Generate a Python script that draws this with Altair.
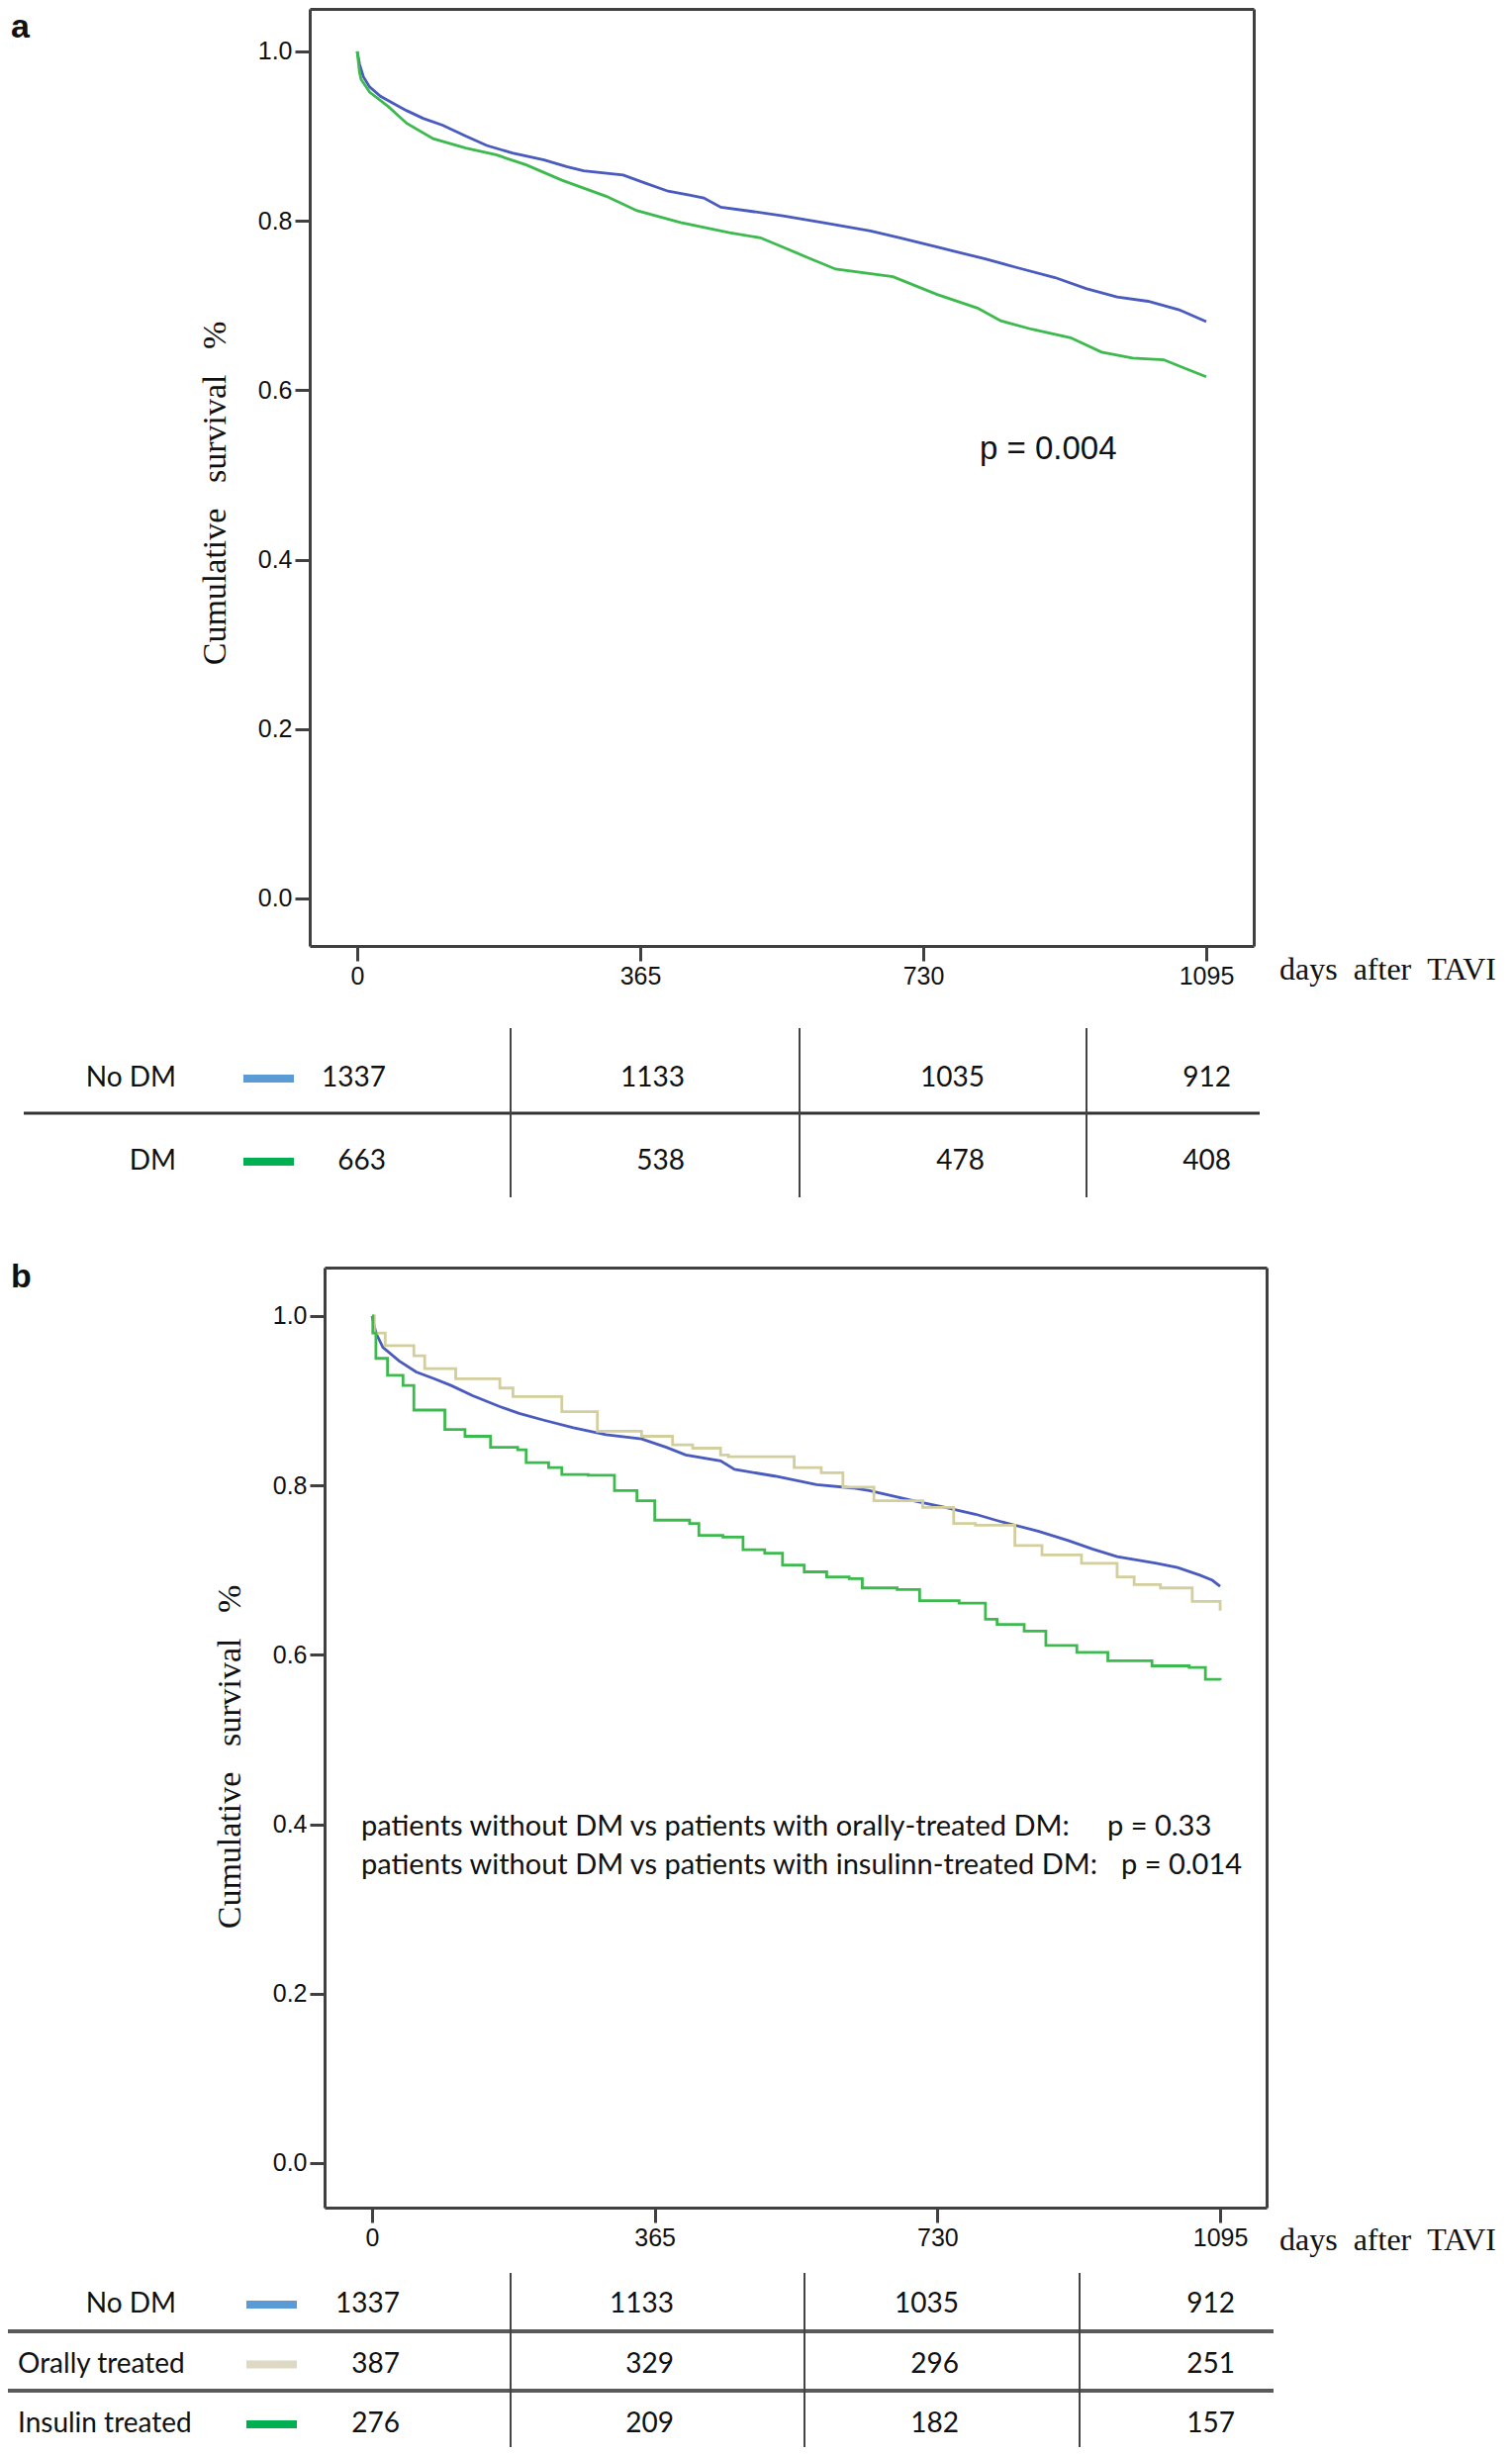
import altair as alt
import pandas as pd

# ---------------- data ----------------
tick_days = [0, 365, 730, 1095]
tick_surv = [0.0, 0.2, 0.4, 0.6, 0.8, 1.0]

# panel a
a_nodm_day = [0, 3, 8, 16, 30, 50, 64, 85, 110, 140, 167, 200, 241, 270, 292, 343, 370, 401, 430, 447,
              469, 510, 549, 600, 662, 700, 748, 810, 850, 900, 940, 980, 1020, 1060, 1095]
a_nodm_surv = [1.000, 0.985, 0.970, 0.958, 0.947, 0.937, 0.930, 0.921, 0.913, 0.900, 0.889, 0.880, 0.872,
               0.864, 0.859, 0.854, 0.845, 0.835, 0.830, 0.827, 0.816, 0.811, 0.806, 0.798, 0.788, 0.780,
               0.769, 0.755, 0.745, 0.733, 0.720, 0.710, 0.705, 0.695, 0.681]
a_dm_day = [0, 3, 5, 16, 40, 64, 98, 140, 179, 218, 264, 321, 361, 417, 480, 520, 549, 580, 617, 691,
            748, 800, 830, 870, 920, 960, 1000, 1040, 1070, 1095]
a_dm_surv = [1.000, 0.975, 0.967, 0.952, 0.935, 0.915, 0.897, 0.886, 0.878, 0.866, 0.848, 0.829, 0.812,
             0.798, 0.786, 0.780, 0.769, 0.757, 0.743, 0.734, 0.713, 0.697, 0.682, 0.672, 0.662, 0.645,
             0.638, 0.636, 0.625, 0.616]

# panel b
b_nodm_day = [0, 5, 14, 35, 57, 80, 102, 130, 165, 190, 222, 260, 302, 348, 380, 405, 450, 468, 520, 574,
              620, 642, 699, 740, 779, 813, 860, 899, 930, 962, 1013, 1040, 1069, 1085, 1095]
b_nodm_surv = [1.000, 0.980, 0.963, 0.947, 0.934, 0.926, 0.918, 0.906, 0.893, 0.885, 0.877, 0.868, 0.860,
               0.855, 0.845, 0.836, 0.829, 0.819, 0.811, 0.801, 0.797, 0.794, 0.782, 0.774, 0.766, 0.757,
               0.746, 0.735, 0.725, 0.716, 0.708, 0.703, 0.694, 0.688, 0.681]
b_oral_day = [0, 3, 17, 54, 68, 108, 165, 182, 214, 245, 291, 348, 388, 414, 450, 460, 522, 545, 580, 608,
              648, 711, 751, 779, 830, 865, 916, 962, 984, 1018, 1059, 1095]
b_oral_surv = [1.000, 0.980, 0.965, 0.953, 0.938, 0.926, 0.915, 0.905, 0.905, 0.887, 0.864, 0.858, 0.848,
               0.844, 0.836, 0.834, 0.834, 0.821, 0.815, 0.798, 0.782, 0.774, 0.755, 0.753, 0.729, 0.718,
               0.708, 0.692, 0.683, 0.679, 0.663, 0.652]
b_ins_day = [0, 1, 5, 20, 40, 54, 74, 94, 120, 153, 188, 199, 228, 245, 279, 313, 342, 365, 410, 422, 453,
             479, 507, 530, 558, 587, 616, 633, 678, 707, 758, 792, 807, 842, 870, 910, 950, 1007, 1055,
             1076, 1095]
b_ins_surv = [1.000, 0.980, 0.950, 0.930, 0.918, 0.889, 0.889, 0.866, 0.858, 0.845, 0.842, 0.827, 0.821,
              0.813, 0.812, 0.794, 0.782, 0.759, 0.755, 0.741, 0.739, 0.724, 0.720, 0.706, 0.698, 0.692,
              0.690, 0.679, 0.677, 0.664, 0.661, 0.642, 0.636, 0.628, 0.611, 0.603, 0.593, 0.587, 0.585,
              0.571, 0.570]

a_groups = ["No DM", "DM"]
a_risk_nodm = [1337, 1133, 1035, 912]
a_risk_dm = [663, 538, 478, 408]

b_groups = ["No DM", "Orally treated", "Insulin treated"]
b_risk_nodm = [1337, 1133, 1035, 912]
b_risk_oral = [387, 329, 296, 251]
b_risk_ins = [276, 209, 182, 157]

p_a = "p = 0.004"
b_note1 = "patients without DM vs patients with orally-treated DM:"
b_p1 = "p = 0.33"
b_note2 = "patients without DM vs patients with insulinn-treated DM:"
b_p2 = "p = 0.014"

# ---------------- styles / layout ----------------
W, H = 1512, 2465
FR = "#404040"
TXT = "#111111"
C_BLUE, C_BEIGE, C_GREEN = "#4a5bbf", "#d3ce9d", "#3dba4e"
S_BLUE, S_BEIGE, S_GREEN = "#5b9bd5", "#ddd9c4", "#00b050"
NB = "\u00a0"
Y_TITLE = "Cumulative" + NB * 3 + "survival" + NB * 3 + "%"
X_TITLE = "days" + NB * 2 + "after" + NB * 2 + "TAVI"


def curves(days_list, surv_list, names):
    rows = []
    for days, surv, name in zip(days_list, surv_list, names):
        for d, s in zip(days, surv):
            rows.append({"day": d, "surv": s, "group": name})
    return pd.DataFrame(rows)


def risk(groups, counts):
    rows = []
    for g, cs in zip(groups, counts):
        for d, n in zip(tick_days, cs):
            rows.append({"row": g, "day": d, "n": n})
    return pd.DataFrame(rows)


def km_panel(df_smooth, df_step, names, colors, xdom, xrng, ydom, yrng, title_y):
    xs = alt.Scale(domain=xdom, range=xrng, nice=False, zero=False)
    ys = alt.Scale(domain=ydom, range=yrng, nice=False, zero=False)
    cs = alt.Scale(domain=names, range=colors)
    x_bottom = alt.Axis(orient="bottom", offset=yrng[0] - H, values=tick_days, format="d",
                        tickSize=15, tickWidth=3, tickColor=FR, domainColor=FR, domainWidth=3,
                        labelFont="Liberation Sans", labelFontSize=25, labelColor=TXT, labelPadding=3,
                        title="", grid=False, labelFlush=False, labelOverlap=False)
    y_left = alt.Axis(orient="left", offset=-xrng[0], values=tick_surv, format=".1f",
                      tickSize=15, tickWidth=3, tickColor=FR, domainColor=FR, domainWidth=3,
                      labelFont="Liberation Sans", labelFontSize=25, labelColor=TXT, labelPadding=3,
                      title=Y_TITLE, titleFont="Liberation Serif", titleFontSize=34,
                      titleFontWeight="normal", titleColor=TXT, titleAngle=270, titleAlign="center",
                      titleBaseline="middle", titleX=-96, titleY=title_y, grid=False, labelFlush=False)
    out = []
    lines = alt.Chart(df_smooth).mark_line(strokeWidth=2.8).encode(
        x=alt.X("day:Q", scale=xs, axis=x_bottom),
        y=alt.Y("surv:Q", scale=ys, axis=y_left),
        color=alt.Color("group:N", scale=cs, legend=None),
        detail="group:N",
    )
    out.append(lines)
    if df_step is not None:
        steps = alt.Chart(df_step).mark_line(interpolate="step-after", strokeWidth=2.8).encode(
            x=alt.X("day:Q", scale=xs, axis=None),
            y=alt.Y("surv:Q", scale=ys, axis=None),
            color=alt.Color("group:N", scale=cs, legend=None),
            detail="group:N",
        )
        out.append(steps)
    x_top = alt.Axis(orient="top", offset=-yrng[1], ticks=False, labels=False, title="",
                     domainColor=FR, domainWidth=3, grid=False)
    y_right = alt.Axis(orient="right", offset=xrng[1] - W, ticks=False, labels=False, title="",
                       domainColor=FR, domainWidth=3, grid=False)
    frame = alt.Chart(df_smooth).mark_line(strokeOpacity=0).encode(
        x=alt.X("day:Q", scale=xs, axis=x_top),
        y=alt.Y("surv:Q", scale=ys, axis=y_right),
        detail="group:N",
    )
    out.append(frame)
    return out


def text_layer(txt, x, y, font, size, align="left", baseline="alphabetic", weight="normal"):
    return alt.Chart(pd.DataFrame({"t": [txt]})).mark_text(
        align=align, baseline=baseline, font=font, fontSize=size, fontWeight=weight, color=TXT
    ).encode(x=alt.value(x), y=alt.value(y), text="t:N")


def rule_h(x1, x2, y, w, c):
    return alt.Chart(pd.DataFrame({"k": [0]})).mark_rule(strokeWidth=w, color=c).encode(
        x=alt.value(x1), x2=alt.value(x2), y=alt.value(y))


def rule_v(x, y1, y2, w, c):
    return alt.Chart(pd.DataFrame({"k": [0]})).mark_rule(strokeWidth=w, color=c).encode(
        x=alt.value(x), y=alt.value(y1), y2=alt.value(y2))


def table(groups, counts, sw_colors, col_rng, row_rng, label_parts, sw_x):
    ys = alt.Scale(type="point", domain=groups, range=row_rng, padding=0)
    df = risk(groups, counts)
    nums = alt.Chart(df).mark_text(align="right", baseline="middle", font="Lato", fontSize=28,
                                   color=TXT).encode(
        x=alt.X("day:Q", scale=alt.Scale(domain=tick_days, range=col_rng, nice=False, zero=False), axis=None),
        y=alt.Y("row:N", scale=ys, axis=None),
        text=alt.Text("n:Q", format="d"),
    )
    out = [nums]
    for names, align, xpos in label_parts:
        out.append(alt.Chart(pd.DataFrame({"row": names})).mark_text(
            align=align, baseline="middle", font="Lato", fontSize=28, color=TXT).encode(
            x=alt.value(xpos), y=alt.Y("row:N", scale=ys, axis=None), text="row:N"))
    out.append(alt.Chart(pd.DataFrame({"row": groups})).mark_rule(strokeWidth=8).encode(
        x=alt.value(sw_x[0]), x2=alt.value(sw_x[1]),
        y=alt.Y("row:N", scale=ys, axis=None),
        color=alt.Color("row:N", scale=alt.Scale(domain=groups, range=sw_colors), legend=None)))
    return out


layers = []

# ---- panel a ----
df_a = curves([a_nodm_day, a_dm_day], [a_nodm_surv, a_dm_surv], a_groups)
layers += km_panel(df_a, None, a_groups, [C_BLUE, C_GREEN],
                   [-61.26, 1156.26], [305, 1259], [-0.0561, 1.0502], [948, 1], 490)
layers.append(text_layer("a", 3, 30, "Liberation Sans", 34, weight="bold"))
layers.append(text_layer(p_a, 982, 456, "Liberation Sans", 33))
layers.append(text_layer(X_TITLE, 1285, 982, "Liberation Serif", 32))

layers += table(a_groups, [a_risk_nodm, a_risk_dm], [S_BLUE, S_GREEN],
                [382, 684, 987, 1236], [1082, 1166],
                [(a_groups, "right", 170)], (238, 289))
layers.append(rule_h(16, 1265, 1117, 3, "#333333"))
for xv in [508, 800, 1090]:
    layers.append(rule_v(xv, 1031, 1202, 2, "#444444"))

# ---- panel b ----
df_b_smooth = curves([b_nodm_day], [b_nodm_surv], [b_groups[0]])
df_b_step = curves([b_oral_day, b_ins_day], [b_oral_surv, b_ins_surv], b_groups[1:])
layers += km_panel(df_b_smooth, df_b_step, b_groups, [C_BLUE, C_BEIGE, C_GREEN],
                   [-61.3, 1155.0], [320, 1272], [-0.0526, 1.0572], [2223, 1273], 1767)
layers.append(text_layer("b", 3, 1293, "Liberation Sans", 34, weight="bold"))
layers.append(text_layer(b_note1, 357, 1847, "Lato", 29))
layers.append(text_layer(b_p1, 1111, 1847, "Lato", 29))
layers.append(text_layer(b_note2, 357, 1886, "Lato", 29))
layers.append(text_layer(b_p2, 1125, 1886, "Lato", 29))
layers.append(text_layer(X_TITLE, 1285, 2266, "Liberation Serif", 32))

layers += table(b_groups, [b_risk_nodm, b_risk_oral, b_risk_ins], [S_BLUE, S_BEIGE, S_GREEN],
                [396, 673, 961, 1240], [2321, 2442],
                [(["No DM"], "right", 170), (["Orally treated", "Insulin treated"], "left", 10)],
                (241, 292))
for yv in [2348, 2408]:
    layers.append(rule_h(0, 1279, yv, 4, "#5a5a5a"))
for xv in [508, 805, 1083]:
    layers.append(rule_v(xv, 2289, 2465, 2, "#444444"))

chart = alt.layer(*layers).resolve_scale(
    x="independent", y="independent", color="independent"
).resolve_axis(x="independent", y="independent").properties(
    width=W, height=H, padding=0, autosize=alt.AutoSizeParams(type="none")
).configure_view(stroke="transparent")

chart.save("out.html", embed_options={"renderer": "svg", "actions": False})
